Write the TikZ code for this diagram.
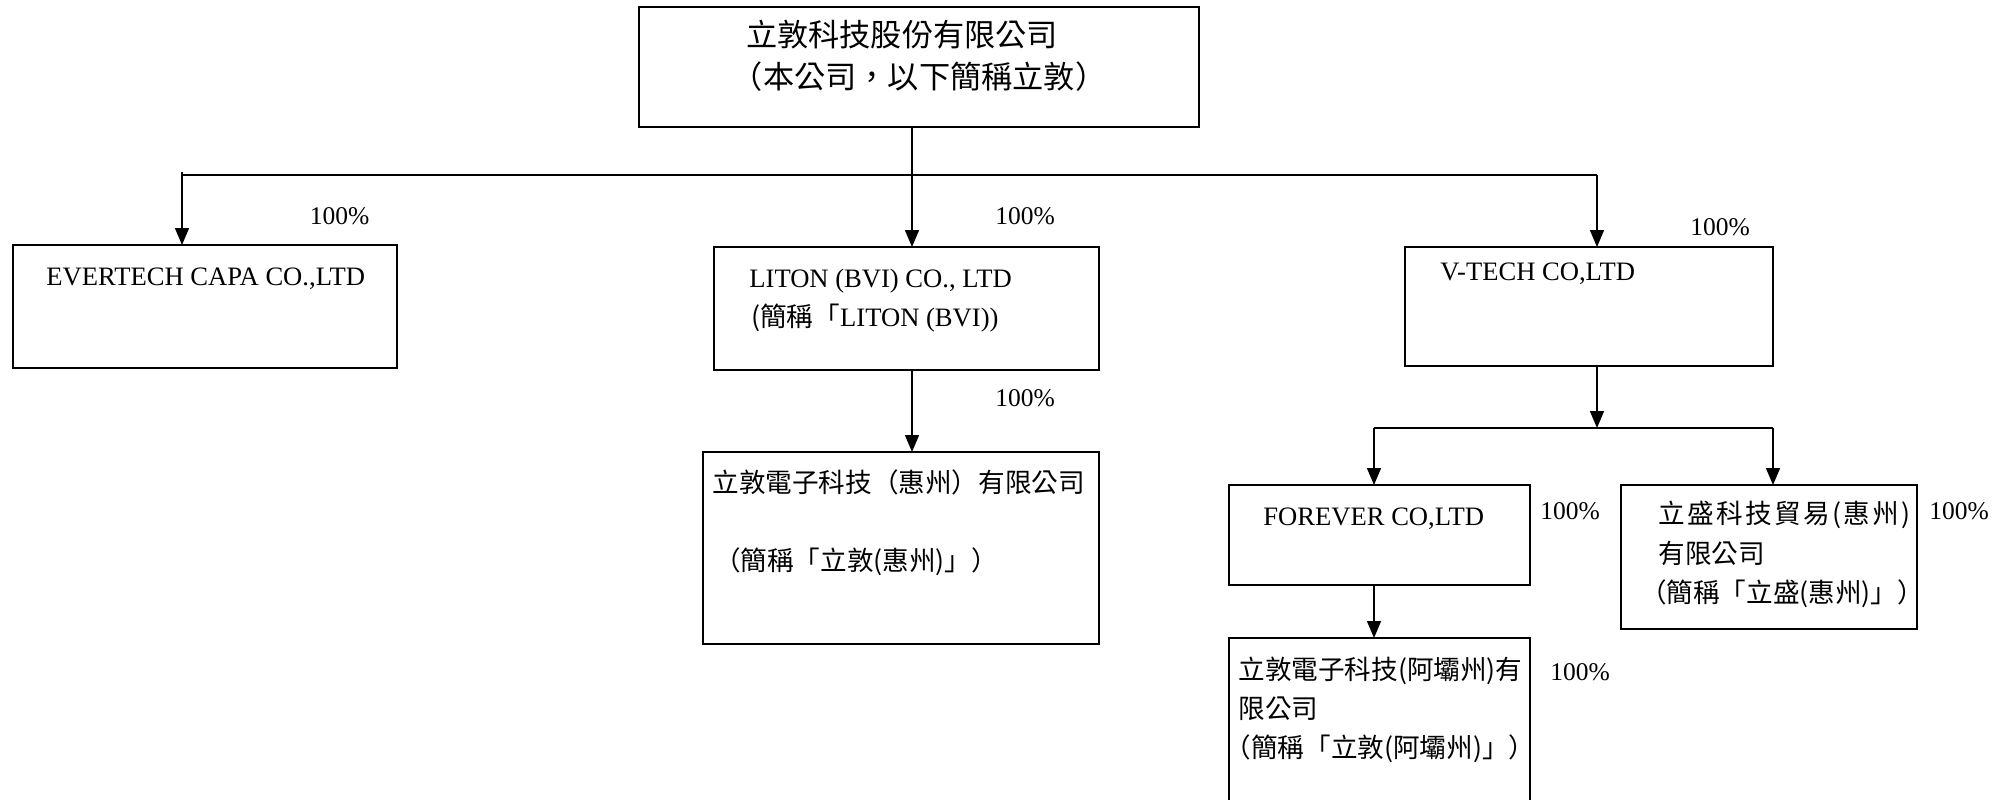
\documentclass[tikz,border=0pt]{standalone}
\usepackage{fontspec}
\setmainfont{Liberation Serif}
\newfontfamily\cjk{Noto Sans CJK TC}
\newfontfamily\cjksp[LetterSpace=9]{Noto Sans CJK TC}
\usetikzlibrary{arrows.meta}
\begin{document}
\begin{tikzpicture}[x=0.5pt,y=-0.5pt,
  box/.style={draw, line width=0.9pt, rectangle, inner sep=0pt, outer sep=0pt},
  conn/.style={line width=0.75pt},
  arr/.style={conn, -{Triangle[length=8.5pt,width=7pt]}},
  lat/.style={font=\fontsize{12.75}{15}\selectfont, inner sep=0pt},
  cotext/.style={font=\fontsize{13.3}{16}\selectfont, inner sep=0pt, anchor=west},
  cj/.style={font=\cjk\fontsize{13.3}{16}\selectfont, inner sep=0pt},
  cjs/.style={font=\cjksp\fontsize{13.3}{16}\selectfont, inner sep=0pt},
  cjb/.style={font=\cjk\fontsize{15.6}{18}\selectfont, inner sep=0pt}]
\useasboundingbox (0,0) rectangle (2004,799);
% boxes
\node[box, minimum width=280pt, minimum height=60pt] (top) at (919,67) {};
\node[box, minimum width=192pt, minimum height=61.5pt] (ever) at (205,306.5) {};
\node[box, minimum width=192.5pt, minimum height=61.5pt] (liton) at (906.5,308.5) {};
\node[box, minimum width=184pt, minimum height=59.5pt] (vtech) at (1589,306.5) {};
\node[box, minimum width=198pt, minimum height=96pt] (hz) at (901,548) {};
\node[box, minimum width=150.5pt, minimum height=50pt] (forever) at (1379.5,535) {};
\node[box, minimum width=148pt, minimum height=72pt] (ls) at (1769,557) {};
\node[box, minimum width=150.5pt, minimum height=91pt] (ab) at (1379.5,729) {};
% junctions
\coordinate (jl) at (182,175);
\coordinate (jm) at (912,175);
\coordinate (jr) at (1597,175);
\coordinate (jv) at (1597,428);
\coordinate (jf) at (1374,428);
\coordinate (js) at (1773,428);
% connectors
\draw[conn] (jl) -- (jr);
\draw[conn] (top.south -| jm) -- (jm);
\draw[arr] ([yshift=1.5pt]jl) -- (ever.north -| jl);
\draw[arr] (jm) -- (liton.north -| jm);
\draw[arr] (jr) -- (vtech.north -| jr);
\draw[arr] (liton.south -| jm) -- (hz.north -| jm);
\draw[arr] (vtech.south -| jr) -- (jv);
\draw[conn] (jf) -- (js);
\draw[arr] (jf) -- (forever.north -| jf);
\draw[arr] (js) -- (ls.north -| js);
\draw[arr] (forever.south -| jf) -- (ab.north -| jf);
% texts
\node[cjb] (t1) at (902,35) {立敦科技股份有限公司};
\node[cjb] (t2) at (919,77) {（本公司，以下簡稱立敦）};
\node[cotext] (e1) at (46,279) {EVERTECH CAPA CO.,LTD};
\node[cotext] (l1) at (749,281) {LITON (BVI) CO., LTD};
\node[cotext] (l2) at (751,318) {{\cjk (簡稱「}LITON (BVI))};
\node[cotext] (v1) at (1440,274) {V-TECH CO,LTD};
\node[cotext] (f1) at (1263,519) {FOREVER CO,LTD};
\node[cj, anchor=west] (h1) at (712,482) {立敦電子科技（惠州）有限公司};
\node[cj] (h2) at (856,562) {（簡稱「立敦(惠州)」）};
\node[cjs, anchor=west] (s1) at (1658,515) {立盛科技貿易(惠州)};
\node[cj, anchor=west] (s2) at (1658,553) {有限公司};
\node[cj] (s3) at (1782,594) {（簡稱「立盛(惠州)」）};
\node[cj, anchor=west] (a1) at (1238,671) {立敦電子科技(阿壩州)有};
\node[cj, anchor=west] (a2) at (1238,709) {限公司};
\node[cj] (a3) at (1380,749) {（簡稱「立敦(阿壩州)」）};
% percentages
\node[lat] (p1) at (339.5,216) {100\%};
\node[lat] (p2) at (1025,216) {100\%};
\node[lat] (p3) at (1720,227) {100\%};
\node[lat] (p4) at (1025,398) {100\%};
\node[lat] (p5) at (1570,511) {100\%};
\node[lat] (p6) at (1959,511) {100\%};
\node[lat] (p7) at (1580,672) {100\%};
\end{tikzpicture}
\end{document}
